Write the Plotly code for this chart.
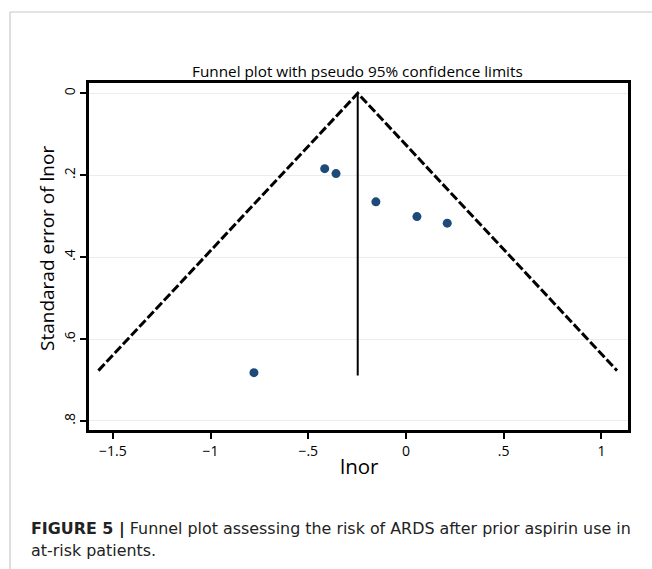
import plotly.graph_objects as go

# Study estimates (log odds ratio) and their standard errors
lnor = [-0.416, -0.358, -0.154, 0.056, 0.211, -0.778]
se_lnor = [0.184, 0.196, 0.265, 0.301, 0.317, 0.682]

# Pooled estimate and funnel extent
pooled = -0.247
se_max = 0.677
z95 = 1.96

x_tickvals = [-1.5, -1, -0.5, 0, 0.5, 1]
x_ticktext = ["\u22121.5", "\u22121", "\u2212.5", "0", ".5", "1"]
y_tickvals = [0, 0.2, 0.4, 0.6, 0.8]
y_ticktext = ["0", ".2", ".4", ".6", ".8"]

title_text = "Funnel plot with pseudo 95% confidence limits"
x_title = "lnor"
y_title = "Standarad error of lnor"
caption_1 = "<b>FIGURE 5 |</b> Funnel plot assessing the risk of ARDS after prior aspirin use in"
caption_2 = "at-risk patients."

W, H = 652, 569
L, R, T, B = 89, 628, 83, 430

def px_x(p):
    return (p - L) / (R - L)

def px_y(p):
    return (B - p) / (B - T)

FONT = "Open Sans"
CAP_FONT = "DejaVu Sans"

fig = go.Figure()

# Funnel (pseudo 95% CI) lines
fig.add_trace(go.Scatter(
    x=[pooled - z95 * se_max, pooled, pooled + z95 * se_max],
    y=[se_max, 0, se_max],
    mode="lines",
    line=dict(color="black", width=3, dash="9px,3px"),
    hoverinfo="skip", showlegend=False,
))
# Pooled estimate vertical line
fig.add_trace(go.Scatter(
    x=[pooled, pooled],
    y=[0, se_max + 0.012],
    mode="lines",
    line=dict(color="black", width=2),
    hoverinfo="skip", showlegend=False,
))
# Studies
fig.add_trace(go.Scatter(
    x=lnor, y=se_lnor,
    mode="markers",
    marker=dict(color="#1d4a78", size=9),
    showlegend=False,
))

grid_col = "#e6eef0"
fig.update_xaxes(
    range=[-1.622, 1.136],
    tickvals=x_tickvals, ticktext=x_ticktext,
    ticks="outside", ticklen=6, tickwidth=2, tickcolor="black",
    showline=True, linecolor="black", linewidth=2.5, mirror=True,
    showgrid=False, zeroline=False,
    tickfont=dict(family=FONT, size=14, color="black"),
)
fig.update_yaxes(
    range=[0.822, -0.0252],
    tickvals=y_tickvals, ticktext=y_ticktext,
    ticks="outside", ticklen=6, tickwidth=2, tickcolor="black",
    tickangle=-90,
    showline=True, linecolor="black", linewidth=2.5, mirror=True,
    showgrid=True, gridcolor=grid_col, gridwidth=1, zeroline=False,
    tickfont=dict(family=FONT, size=14, color="black"),
)

annotations = [
    dict(text=title_text, x=px_x(357), y=px_y(71), xref="paper", yref="paper",
         showarrow=False, xanchor="center", yanchor="middle",
         font=dict(family=FONT, size=15.3, color="black")),
    dict(text=x_title, x=px_x(359), y=px_y(466), xref="paper", yref="paper",
         showarrow=False, xanchor="center", yanchor="middle",
         font=dict(family=FONT, size=20.5, color="black")),
    dict(text=y_title, x=px_x(47), y=px_y(249), xref="paper", yref="paper",
         showarrow=False, xanchor="center", yanchor="middle", textangle=-90,
         font=dict(family=FONT, size=19, color="black")),
    dict(text=caption_1, x=px_x(29), y=px_y(529), xref="paper", yref="paper",
         showarrow=False, xanchor="left", yanchor="middle",
         font=dict(family=CAP_FONT, size=15.9, color="#222222")),
    dict(text=caption_2, x=px_x(29), y=px_y(550), xref="paper", yref="paper",
         showarrow=False, xanchor="left", yanchor="middle",
         font=dict(family=CAP_FONT, size=15.9, color="#222222")),
]

shapes = [
    dict(type="line", xref="paper", yref="paper",
         x0=px_x(10), x1=px_x(652), y0=px_y(12), y1=px_y(12),
         line=dict(color="#c8c8c8", width=1.2)),
    dict(type="line", xref="paper", yref="paper",
         x0=px_x(10), x1=px_x(10), y0=px_y(12), y1=px_y(569),
         line=dict(color="#c8c8c8", width=1.2)),
]

fig.update_layout(
    width=W, height=H,
    margin=dict(l=L, r=W - R, t=T, b=H - B),
    paper_bgcolor="white", plot_bgcolor="white",
    annotations=annotations, shapes=shapes,
    showlegend=False,
)

fig.write_html(
    "out.html",
    config={"displayModeBar": False},
    post_script="document.body.style.margin='0';document.body.style.overflow='hidden';",
)
